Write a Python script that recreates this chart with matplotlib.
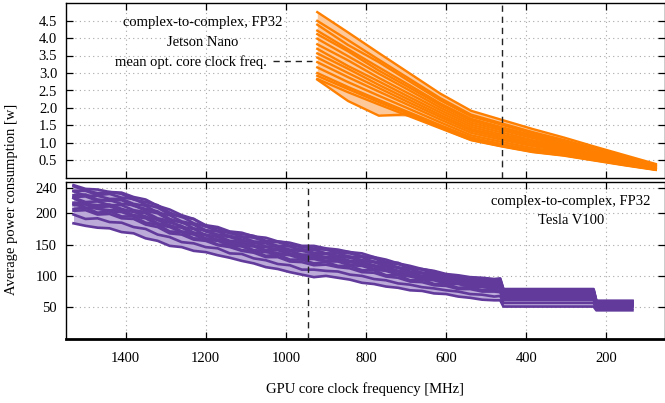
import matplotlib
matplotlib.use("Agg")
import matplotlib.pyplot as plt
from matplotlib.lines import Line2D
from matplotlib.ticker import FormatStrFormatter

plt.rcParams['font.family'] = ['Liberation Serif', 'DejaVu Serif']
plt.rcParams['font.size'] = 10.5

# ---------------- Jetson Nano (top panel) ----------------
nano_freq = [921.6, 844.8, 768.0, 691.2, 614.4, 537.6, 460.8, 384.0, 307.2, 230.4, 153.6, 76.8]
nano_s01 = [4.74, 4.16, 3.57, 2.99, 2.41, 1.92, 1.66, 1.40, 1.16, 0.90, 0.65, 0.40]
nano_s02 = [4.49, 3.94, 3.38, 2.83, 2.28, 1.81, 1.56, 1.31, 1.09, 0.85, 0.61, 0.38]
nano_s03 = [4.38, 3.80, 3.31, 2.76, 2.22, 1.76, 1.52, 1.27, 1.06, 0.82, 0.60, 0.37]
nano_s04 = [4.21, 3.68, 3.16, 2.65, 2.13, 1.69, 1.45, 1.22, 1.01, 0.79, 0.57, 0.35]
nano_s05 = [4.11, 3.62, 3.07, 2.58, 2.08, 1.64, 1.41, 1.18, 0.99, 0.77, 0.55, 0.34]
nano_s06 = [3.98, 3.48, 2.98, 2.50, 2.01, 1.58, 1.36, 1.14, 0.95, 0.74, 0.53, 0.33]
nano_s07 = [3.82, 3.36, 2.86, 2.40, 1.94, 1.52, 1.30, 1.08, 0.91, 0.71, 0.51, 0.32]
nano_s08 = [3.69, 3.20, 2.76, 2.31, 1.87, 1.46, 1.24, 1.04, 0.87, 0.68, 0.49, 0.31]
nano_s09 = [3.56, 3.12, 2.66, 2.23, 1.80, 1.40, 1.19, 0.99, 0.84, 0.65, 0.47, 0.30]
nano_s10 = [3.44, 3.00, 2.57, 2.15, 1.74, 1.35, 1.14, 0.95, 0.81, 0.63, 0.45, 0.28]
nano_s11 = [3.31, 2.88, 2.47, 2.07, 1.67, 1.29, 1.09, 0.91, 0.77, 0.60, 0.43, 0.27]
nano_s12 = [3.16, 2.74, 2.35, 1.97, 1.59, 1.22, 1.03, 0.85, 0.73, 0.57, 0.41, 0.26]
nano_s13 = [3.00, 2.60, 2.23, 1.87, 1.51, 1.16, 0.97, 0.80, 0.69, 0.54, 0.39, 0.25]
nano_s14 = [2.92, 2.54, 2.17, 1.82, 1.47, 1.12, 0.94, 0.77, 0.67, 0.52, 0.38, 0.24]
nano_s15 = [2.83, 2.45, 2.10, 1.76, 1.42, 1.08, 0.90, 0.74, 0.64, 0.50, 0.36, 0.23]
nano_s16 = [2.81, 2.20, 1.78, 1.82, 1.44, 1.09, 0.91, 0.75, 0.65, 0.51, 0.37, 0.24]
nano_opt_freq = 460.8

# ---------------- Tesla V100 (bottom panel) ----------------
v100_freq = [1530, 1500, 1470, 1440, 1410, 1380, 1350, 1320, 1290, 1260,
             1230, 1200, 1170, 1140, 1110, 1080, 1050, 1020, 990, 960,
             930, 900, 870, 840, 810, 780, 750, 720, 690, 660,
             630, 600, 570, 540, 510, 480, 465, 457, 232, 225, 135]
v100_s01 = [245, 239, 238, 234, 233, 226, 222, 212, 206, 197, 191, 181, 178, 171, 169, 163, 161, 155, 153, 148,
            148, 144, 142, 138, 136, 130, 126, 120, 116, 111, 108, 103, 101, 98, 97, 95, 96, 79, 79, 60, 60]
v100_s02 = [236, 236, 229, 231, 225, 223, 214, 209, 198, 195, 184, 179, 172, 169, 163, 161, 155, 154, 148, 147,
            143, 142, 137, 136, 131, 128, 121, 119, 112, 110, 104, 102, 97, 97, 93, 94, 93, 77, 77, 59, 59]
v100_s03 = [235, 228, 228, 223, 223, 215, 212, 201, 197, 187, 183, 173, 171, 163, 162, 155, 154, 148, 147, 141,
            142, 136, 136, 130, 130, 122, 121, 113, 111, 105, 103, 98, 96, 93, 92, 90, 91, 75, 75, 58, 58]
v100_s04 = [226, 227, 220, 221, 215, 213, 204, 200, 189, 186, 176, 172, 165, 162, 156, 154, 147, 147, 141, 140,
            136, 135, 131, 129, 124, 122, 115, 113, 106, 104, 99, 97, 92, 92, 88, 89, 88, 73, 73, 57, 57]
v100_s05 = [225, 218, 219, 213, 213, 205, 202, 192, 188, 178, 175, 165, 164, 156, 155, 148, 146, 142, 140, 134,
            134, 130, 130, 124, 123, 116, 114, 108, 105, 100, 98, 93, 92, 88, 87, 85, 86, 71, 71, 56, 56]
v100_s06 = [217, 216, 210, 211, 205, 203, 194, 190, 180, 177, 168, 165, 157, 155, 148, 147, 140, 141, 135, 133,
            128, 129, 124, 123, 118, 115, 109, 107, 101, 99, 94, 92, 88, 87, 84, 84, 83, 69, 69, 55, 55]
v100_s07 = [215, 209, 208, 203, 202, 195, 192, 182, 178, 170, 166, 158, 156, 149, 147, 140, 138, 135, 133, 127,
            127, 123, 123, 117, 116, 110, 108, 102, 99, 95, 93, 88, 87, 83, 82, 80, 80, 66, 66, 53, 53]
v100_s08 = [204, 205, 198, 199, 192, 191, 182, 178, 168, 166, 158, 156, 149, 146, 140, 137, 130, 130, 123, 122,
            117, 118, 114, 112, 106, 105, 99, 97, 91, 90, 85, 84, 79, 79, 75, 75, 74, 62, 62, 51, 51]
v100_s09 = [198, 191, 192, 186, 185, 178, 175, 166, 162, 154, 152, 146, 144, 136, 135, 128, 125, 119, 117, 110,
            110, 108, 107, 102, 100, 95, 93, 88, 86, 82, 80, 77, 75, 71, 70, 67, 68, 57, 57, 48, 48]
v100_s10 = [184, 180, 177, 176, 170, 168, 160, 156, 148, 146, 140, 138, 133, 129, 124, 120, 114, 111, 106, 102,
            98, 100, 97, 94, 89, 87, 83, 81, 77, 76, 72, 71, 67, 65, 62, 61, 61, 51, 51, 45, 45]
v100_s11 = [243, 237, 232, 234, 231, 222, 218, 213, 201, 194, 191, 179, 176, 168, 167, 164, 156, 155, 152, 145,
            147, 142, 140, 138, 131, 130, 122, 121, 112, 111, 107, 101, 100, 96, 96, 94, 95, 78, 78, 60, 60]
v100_s12 = [229, 230, 222, 220, 221, 212, 207, 203, 191, 185, 182, 171, 166, 164, 158, 152, 152, 146, 142, 142,
            137, 136, 132, 131, 125, 123, 117, 114, 107, 105, 100, 96, 95, 91, 91, 88, 90, 74, 74, 57, 57]
v100_s13 = [224, 215, 213, 214, 207, 202, 200, 189, 185, 180, 169, 166, 162, 153, 152, 149, 141, 143, 136, 131,
            132, 128, 128, 122, 121, 117, 110, 108, 104, 98, 97, 91, 91, 86, 86, 83, 84, 70, 70, 55, 55]
v100_s14 = [213, 214, 207, 205, 205, 197, 195, 184, 181, 171, 169, 160, 158, 150, 149, 141, 140, 136, 135, 128,
            129, 124, 125, 118, 118, 111, 110, 103, 101, 95, 94, 89, 88, 84, 84, 81, 82, 67, 67, 54, 54]
v100_s15 = [207, 209, 201, 203, 195, 195, 185, 182, 171, 170, 160, 159, 150, 149, 141, 140, 132, 134, 126, 126,
            120, 122, 116, 116, 109, 109, 101, 101, 93, 94, 87, 87, 81, 82, 77, 78, 76, 64, 64, 52, 52]
v100_opt_freq = 944

x_ticks = [1400, 1200, 1000, 800, 600, 400, 200]
nano_yticks = [0.5, 1.0, 1.5, 2.0, 2.5, 3.0, 3.5, 4.0, 4.5]
v100_yticks = [50, 100, 150, 200, 240]

nano_series = [nano_s01, nano_s02, nano_s03, nano_s04, nano_s05, nano_s06, nano_s07, nano_s08,
               nano_s09, nano_s10, nano_s11, nano_s12, nano_s13, nano_s14, nano_s15, nano_s16]
v100_series = [v100_s01, v100_s02, v100_s03, v100_s04, v100_s05, v100_s06, v100_s07, v100_s08,
               v100_s09, v100_s10, v100_s11, v100_s12, v100_s13, v100_s14, v100_s15]

ORANGE = '#ff8000'
ORANGE_LIGHT = '#fdc99a'
PURPLE = '#613a9c'
PURPLE_LIGHT = '#bcaad8'

fig = plt.figure(figsize=(6.65, 4.03), dpi=100)
L, W = 65.5 / 665, 599 / 665
ax1 = fig.add_axes([L, 1 - 178 / 403, W, 175 / 403])
ax2 = fig.add_axes([L, 1 - 338.5 / 403, W, 156.5 / 403])


def draw_band(ax, freq, series, line_c, fill_c, lw):
    lo = [min(v) for v in zip(*series)]
    hi = [max(v) for v in zip(*series)]
    ax.fill_between(freq, lo, hi, color=fill_c, lw=0, zorder=2)
    for s in series:
        ax.plot(freq, s, color=line_c, lw=lw, zorder=3)


draw_band(ax1, nano_freq, nano_series, ORANGE, ORANGE_LIGHT, 1.7)
draw_band(ax2, v100_freq, v100_series, PURPLE, PURPLE_LIGHT, 1.9)

dash = (0, (4.5, 3.5))
ax1.axvline(nano_opt_freq, color='#222222', ls=dash, lw=1.0, zorder=4)
ax2.axvline(v100_opt_freq, color='#222222', ls=dash, lw=1.0, zorder=4)

for ax in (ax1, ax2):
    ax.set_xlim(1550, 55)
    ax.set_xticks(x_ticks)
    ax.grid(True, color='#a8a8a8', ls=(0, (1, 3)), lw=0.8, zorder=1)
    ax.set_axisbelow(True)
    ax.tick_params(direction='in', top=True, right=True, length=5, width=0.9,
                   labelsize=10.5, pad=6)
    for sp in ax.spines.values():
        sp.set_linewidth(1.0)

ax1.set_ylim(0, 5)
ax1.set_yticks(nano_yticks)
ax1.yaxis.set_major_formatter(FormatStrFormatter('%.1f'))
ax1.tick_params(labelbottom=False)

ax2.set_ylim(0, 250)
ax2.set_yticks(v100_yticks)
ax2.tick_params(axis='x', pad=10)
ax2.spines['bottom'].set_linewidth(2.0)

fig.text(203 / 665, 1 - 22.7 / 403, 'complex-to-complex, FP32', ha='center', va='center')
fig.text(203 / 665, 1 - 42 / 403, 'Jetson Nano', ha='center', va='center')
fig.text(267 / 665, 1 - 62 / 403, 'mean opt. core clock freq.', ha='right', va='center')
fig.add_artist(Line2D([273 / 665, 312 / 665], [1 - 61 / 403, 1 - 61 / 403],
                      transform=fig.transFigure, color='#222222', ls=dash, lw=1.0))

fig.text(571 / 665, 1 - 201.7 / 403, 'complex-to-complex, FP32', ha='center', va='center')
fig.text(571 / 665, 1 - 221 / 403, 'Tesla V100', ha='center', va='center')

fig.text(12 / 665, 1 - 199 / 403, 'Average power consumption [w]', rotation=90,
         ha='center', va='center')
fig.text(365 / 665, 1 - 389 / 403, 'GPU core clock frequency [MHz]', ha='center', va='center')

fig.savefig('out.png', dpi=100)
